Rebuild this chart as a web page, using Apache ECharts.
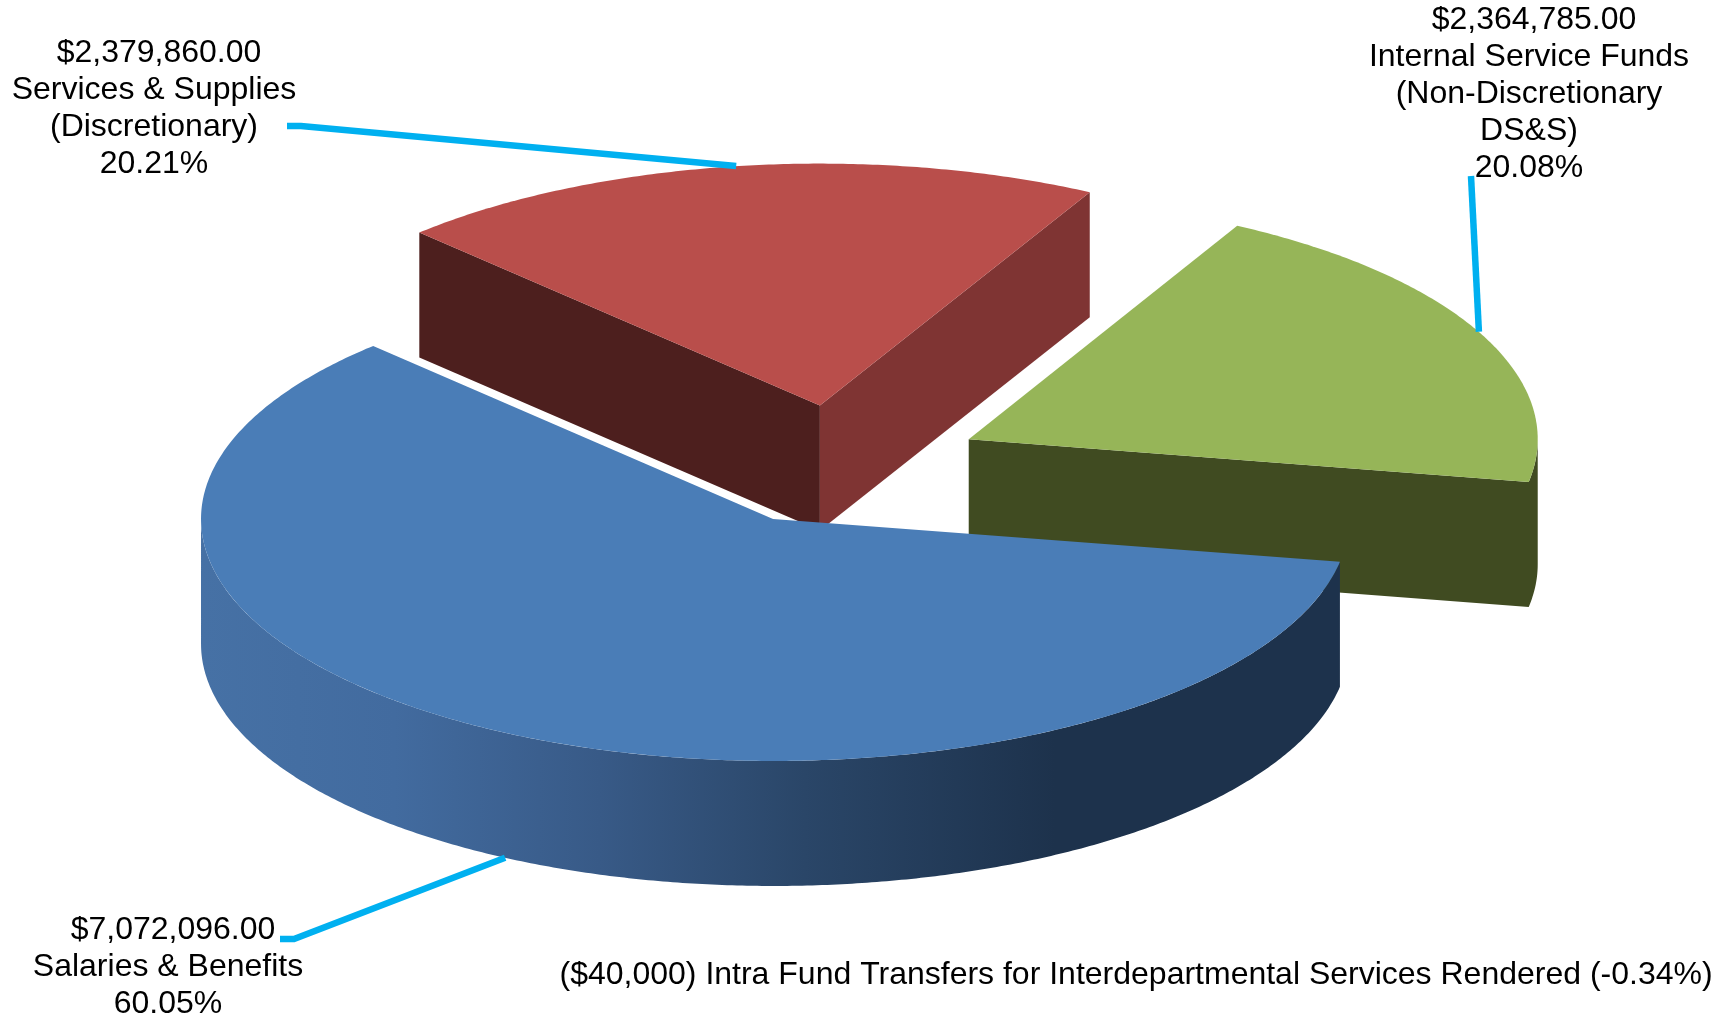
<!DOCTYPE html>
<html>
<head>
<meta charset="utf-8">
<style>html,body{margin:0;padding:0;background:#fff}#c{width:1729px;height:1017px}</style>
<script src="https://cdn.jsdelivr.net/npm/echarts@6/dist/echarts.min.js"></script>
</head>
<body>
<div id="c"></div>
<script>
// ---- data ----
const categories = ['Salaries & Benefits', 'Services & Supplies\n(Discretionary)', 'Internal Service Funds\n(Non-Discretionary\nDS&S)'];
const amounts = [7072096, 2379860, 2364785];
const percentLabels = ['60.05%', '20.21%', '20.08%'];
const footnote = '($40,000) Intra Fund Transfers for Interdepartmental Services Rendered (-0.34%)';

// ---- styling / layout (not data) ----
const topColors = ['#4a7db7', '#b94e4b', '#96b558'];
const cutColors = [null, '#4d1f1e', '#404b21'];
const cutColors2 = [null, '#7f3433', '#404b21'];
const leaderColor = '#00b0f0';
const FONT = '"Liberation Sans", Arial, sans-serif';
const LINE = 37;
const CX = 840, CY = 465.5, RY_FRONT = 242, RY_BACK = 242, DEPTH = 125, EXPLODE = 0.25;
const RX_LEFT = [572, 573, 570], RX_RIGHT = [576, 572, 569];
const START_DEG = 10.2;
const labelAnchors = [[168, 967], [154, 109], [1529, 94]];
const leaderStarts = [[[280, 939], [294, 939]], [[287, 126], [301, 126]], [[1471, 176]]];
const leaderEndShift = [[0, 0], [-3, 0], [-2, -2]];

const total = amounts.reduce((a, b) => a + b, 0);
const rad = d => d * Math.PI / 180;
function rim(i, cx, cy, deg) {
  const s = Math.sin(rad(deg)), c = Math.cos(rad(deg));
  return [cx + (c < 0 ? RX_LEFT[i] : RX_RIGHT[i]) * c, cy + (s < 0 ? RY_BACK : RY_FRONT) * s];
}
function arc(i, cx, cy, a0, a1) {
  const pts = [];
  const n = Math.max(2, Math.ceil(Math.abs(a1 - a0) * 2));
  for (let k = 0; k <= n; k++) pts.push(rim(i, cx, cy, a0 + (a1 - a0) * k / n));
  return pts;
}
function money(v) {
  return '$' + v.toLocaleString('en-US', { minimumFractionDigits: 2, maximumFractionDigits: 2 });
}

function renderSlice(params, api) {
  const i = params.dataIndex;
  const value = api.value(0);
  let before = 0;
  for (let k = 0; k < i; k++) before += amounts[k];
  const a0 = START_DEG + before / total * 360;
  const a1 = a0 + value / total * 360;
  const mid = (a0 + a1) / 2;
  const mp = [572 * Math.cos(rad(mid)), RY_FRONT * Math.sin(rad(mid))];
  const ax = CX + EXPLODE * mp[0], ay = CY + EXPLODE * mp[1];
  const base = [2, 1, 0][i] * 10;           // blue sits in front, then red, then green
  const children = [];
  const poly = (points, fill, z) => children.push({ type: 'polygon', shape: { points }, style: { fill }, z2: base + z, silent: true });
  const down = p => [p[0], p[1] + DEPTH];
  const A = [ax, ay];

  if (i === 0) {
    const wall = arc(i, ax, ay, a0, 180);
    poly(wall.concat(wall.slice().reverse().map(down)), {
      type: 'linear', x: 0, y: 0, x2: 1, y2: 0,
      colorStops: [
        { offset: 0, color: '#4671a5' }, { offset: 0.17, color: '#426b9f' },
        { offset: 0.35, color: '#385a87' }, { offset: 0.53, color: '#2a4668' },
        { offset: 0.75, color: '#1d324c' }, { offset: 1, color: '#1d324c' }
      ]
    }, 1);
  } else if (i === 1) {
    const p0 = rim(i, ax, ay, a0), p1 = rim(i, ax, ay, a1);
    poly([A, p0, down(p0), down(A)], cutColors[i], 1);
    poly([A, p1, down(p1), down(A)], cutColors2[i], 2);
  } else {
    // green: cut face and the sliver of outer rim as one shape
    const w = arc(i, ax, ay, a1 % 360, 0);
    poly([A].concat(w, w.slice().reverse().map(down), [down(A)]), cutColors[i], 1);
  }
  poly([A].concat(arc(i, ax, ay, a0, a1)), topColors[i], 5);

  // leader: ends on the slice edge at its mid-angle
  let end = rim(i, ax, ay, mid);
  if (i === 0) end = down(end);
  end = [end[0] + leaderEndShift[i][0], end[1] + leaderEndShift[i][1]];
  children.push({
    type: 'polyline',
    shape: { points: leaderStarts[i].concat([end]) },
    style: { stroke: leaderColor, lineWidth: 6.5, fill: null, lineJoin: 'miter' },
    z2: 100, silent: true
  });
  // labels: the amount line sits slightly right of the centred block, as in the source
  const rest = [categories[i], percentLabels[i]].join('\n');
  const nLines = rest.split('\n').length + 1;
  const [lx, ly] = labelAnchors[i];
  const textStyle = { align: 'center', verticalAlign: 'middle', font: '32px ' + FONT, lineHeight: LINE, fill: '#000' };
  children.push({
    type: 'text', z2: 101, silent: true,
    style: Object.assign({ text: money(value), x: lx + 5, y: ly - (nLines - 1) / 2 * LINE }, textStyle)
  });
  children.push({
    type: 'text', z2: 101, silent: true,
    style: Object.assign({ text: rest, x: lx, y: ly + LINE / 2 }, textStyle)
  });
  return { type: 'group', children };
}

const chart = echarts.init(document.getElementById('c'), null, { renderer: 'canvas', width: 1729, height: 1017 });
chart.setOption({
  animation: false,
  backgroundColor: '#fff',
  graphic: [{
    type: 'text', x: 559.5, y: 975,
    style: { text: footnote, font: '32px ' + FONT, fill: '#000', verticalAlign: 'middle', align: 'left' }
  }],
  series: [{
    type: 'custom',
    coordinateSystem: 'none',
    silent: true,
    renderItem: renderSlice,
    data: amounts.map(v => [v])
  }]
});
</script>
</body>
</html>
